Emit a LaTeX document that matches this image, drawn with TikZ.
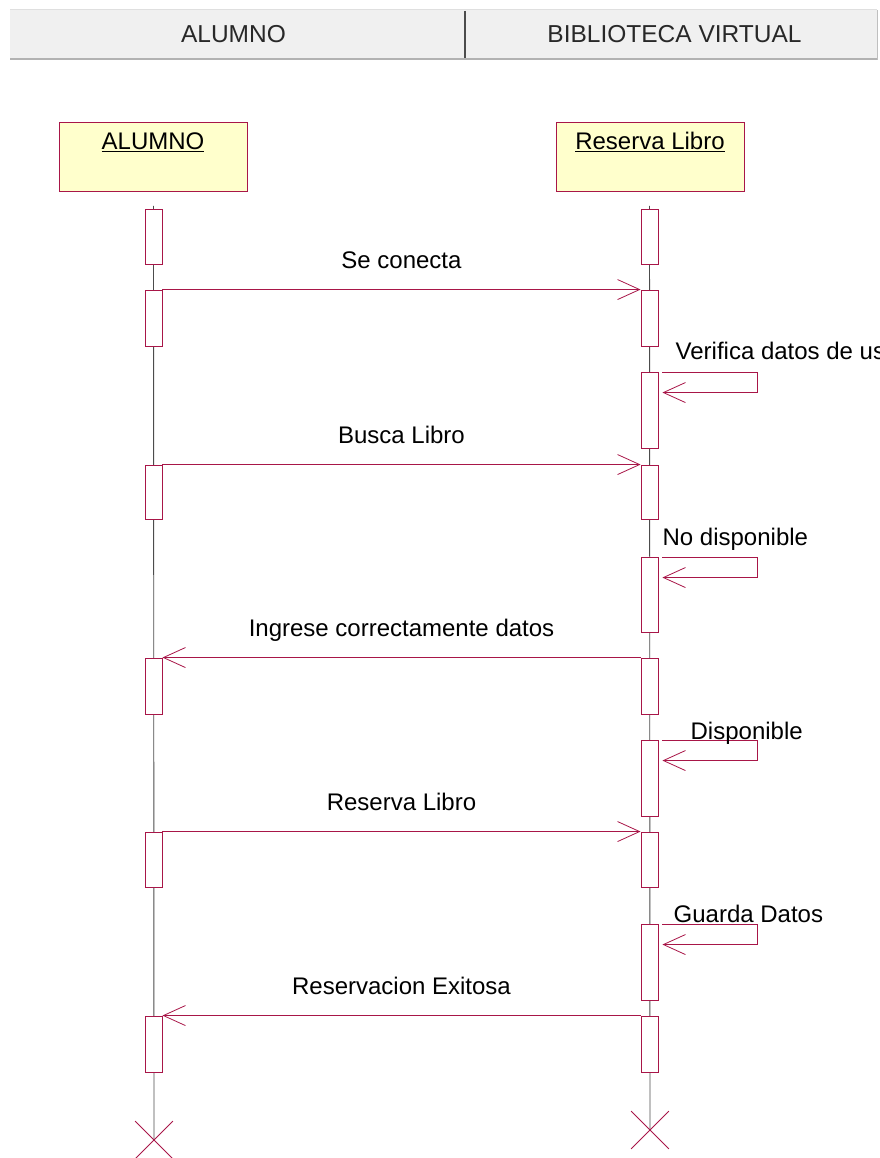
\documentclass[tikz,border=0pt]{standalone}
\usepackage{fontspec}
\setmainfont{Liberation Sans}
\usetikzlibrary{arrows.meta, positioning, shapes.misc}

\definecolor{umlred}{RGB}{168,22,72}
\definecolor{umlyellow}{RGB}{255,255,204}
\definecolor{headergray}{RGB}{240,240,240}
\definecolor{headertext}{RGB}{40,40,40}

\begin{document}
\begin{tikzpicture}[x=1pt, y=-1pt,
    lifebox/.style={draw=umlred, fill=umlyellow, line width=0.9pt, minimum width=188pt, minimum height=69pt, inner sep=0pt},
    actbox/.style={draw=umlred, fill=white, line width=0.9pt, minimum width=17pt, inner sep=0pt},
    lifeline/.style={draw=gray!60!black, line width=0.9pt},
    msg/.style={draw=umlred, line width=0.8pt, -{Straight Barb[length=22pt,width=20pt]}},
    msglabel/.style={anchor=base, yshift=21pt, inner sep=0pt, font=\fontsize{24}{28}\selectfont},
    selflabel/.style={anchor=base west, inner sep=0pt, font=\fontsize{24}{28}\selectfont},
    headlabel/.style={anchor=base, inner sep=0pt, font=\fontsize{24}{28}\selectfont},
    headtext/.style={anchor=base, inner sep=0pt, text=headertext, font=\fontsize{24.5}{28}\selectfont},
    endmark/.style={draw=umlred, cross out, line width=0.8pt, minimum size=37pt, inner sep=0pt}]
    \useasboundingbox (0,0) rectangle (879,1158);
    \clip (0,0) rectangle (879,1158);

    \fill[headergray] (10,9) rectangle (877,60);
    \draw[gray!25, line width=1pt] (10,10) -- (877,10);
    \draw[gray!60, line width=2.5pt] (10,59) -- (877,59);
    \draw[gray!60!black, line width=1.2pt] (465,11) -- (465,58);
    \draw[gray!50, line width=1pt] (877,10) -- (877,60);
    \node[headtext] (Header alumno) at (233.5,43) {ALUMNO};
    \node[headtext] (Header biblioteca) at (674.5,43) {BIBLIOTECA VIRTUAL};

    \node[lifebox] (Alumno head)  at (153,156.5) {};
    \node[lifebox] (Reserva head) at (650,156.5) {};
    \node[headlabel] (Alumno name)  at ([yshift=-28pt]Alumno head.north)  {\underline{ALUMNO}};
    \node[headlabel] (Reserva name) at ([yshift=-28pt]Reserva head.north) {\underline{Reserva Libro}};

    \coordinate (Alumno top)  at (153.5,206);
    \coordinate (Reserva top) at (649.5,206);
    \coordinate (Alumno end)  at (154,1140);
    \coordinate (Reserva end) at (650,1130);
    \draw[lifeline] (Alumno top) -- (Alumno end);
    \draw[lifeline] (Reserva top) -- (Reserva end);

    \foreach \n/\top/\bot in {1/209/264, 2/290/346, 3/465/519, 4/658/714, 5/832/887, 6/1016/1072}
        \node[actbox, minimum height={\bot-\top}] (Alumno \n) at (153.5,{(\top+\bot)/2}) {};
    \foreach \n/\top/\bot in {1/209/264, 2/290/346, 3/372/448, 4/465/519, 5/557/632,
                              6/658/714, 7/740/816, 8/832/887, 9/924/1000, 10/1016/1072}
        \node[actbox, minimum height={\bot-\top}] (Reserva \n) at (649.5,{(\top+\bot)/2}) {};

    \draw[msg] (Alumno 2.north east) -- node[msglabel] (Msg 1) {Se conecta} (Reserva 2.north west);
    \draw[msg] (Alumno 3.north east) -- node[msglabel] (Msg 2) {Busca Libro} (Reserva 4.north west);
    \draw[msg] (Reserva 6.north west) -- node[msglabel] (Msg 3) {Ingrese correctamente datos} (Alumno 4.north east);
    \draw[msg] (Alumno 5.north east) -- node[msglabel] (Msg 4) {Reserva Libro} (Reserva 8.north west);
    \draw[msg] (Reserva 10.north west) -- node[msglabel] (Msg 5) {Reservacion Exitosa} (Alumno 6.north east);

    \foreach \n/\dx/\dy/\txt in {3/17/-12/Verifica datos de usuario, 5/4/-11/No disponible,
                                 7/32/0/Disponible, 9/15/-1/Guarda Datos} {
        \draw[msg] ([shift={(4,1)}]Reserva \n.north east) -- ++(95,0) -- ++(0,20) -- ++(-95,0);
        \node[selflabel] (Self \n) at ([shift={(\dx,\dy)}]Reserva \n.north east) {\txt};
    }

    \node[endmark] (Alumno cross)  at (Alumno end)  {};
    \node[endmark] (Reserva cross) at (Reserva end) {};
\end{tikzpicture}
\end{document}
